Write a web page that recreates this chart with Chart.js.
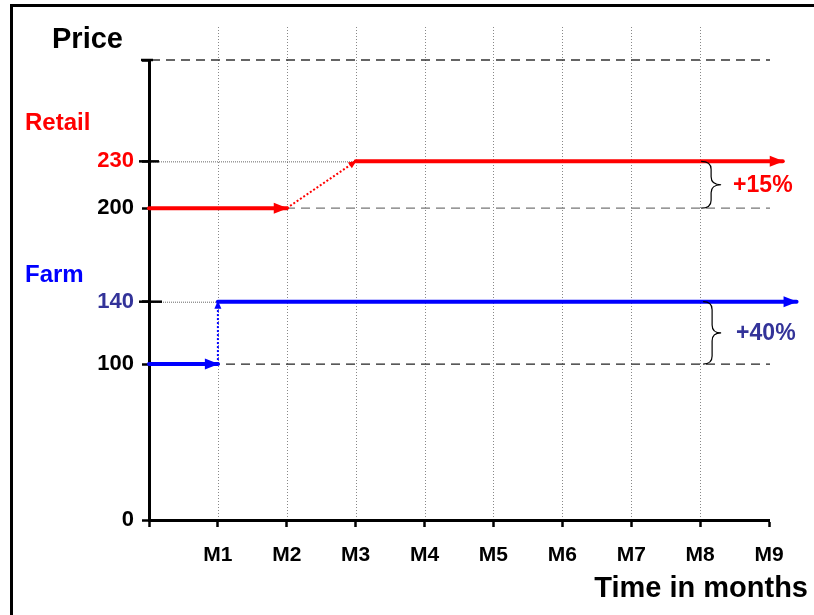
<!DOCTYPE html>
<html>
<head>
<meta charset="utf-8">
<script src="https://cdn.jsdelivr.net/npm/chart.js"></script>
<style>
    body { margin: 0; background: #fff; overflow: hidden; }
    #frame { position: absolute; left: 10px; top: 4px; width: 900px; height: 700px; border: 3px solid #000; }
    #chart { position: absolute; left: 0; top: 0; }
</style>
</head>
<body>
<div id="frame"></div>
<canvas id="chart" width="814" height="615"></canvas>
<script>
// values
const monthLabels = ['M1', 'M2', 'M3', 'M4', 'M5', 'M6', 'M7', 'M8', 'M9'];
const priceTicks = [0, 100, 140, 200, 230];
const priceTop = 295;
const retailTime = [0, 2, 3, 9.2];
const retailPrice = [200, 200, 230, 230];
const farmTime = [0, 1, 1, 9.4];
const farmPrice = [100, 100, 140, 140];
const changeLabels = ['+15%', '+40%'];

const FONT = "'Liberation Sans', Arial, sans-serif";
const RED = '#ff0000', BLUE = '#0000ff', NAVY = '#333399';

// one dataset per segment: solid, dotted (the jump), solid
function segments(times, prices, color) {
    const out = [];
    for (let i = 0; i < times.length - 1; i++) {
        const jump = i === 1;
        out.push({
            data: [{ x: times[i], y: prices[i] }, { x: times[i + 1], y: prices[i + 1] }],
            borderColor: color,
            borderWidth: jump ? 2 : 4,
            borderDash: jump ? [2, 2] : [],
            borderCapStyle: jump ? 'butt' : 'round',
            pointRadius: 0,
            tension: 0,
            clip: false,
            arrow: jump ? 'small' : 'big'
        });
    }
    return out;
}

function line(ctx, x1, y1, x2, y2, color, width, dash) {
    ctx.save();
    ctx.strokeStyle = color;
    ctx.lineWidth = width;
    ctx.setLineDash(dash || []);
    ctx.beginPath();
    ctx.moveTo(x1, y1);
    ctx.lineTo(x2, y2);
    ctx.stroke();
    ctx.restore();
}

function text(ctx, str, x, y, size, color, align) {
    ctx.save();
    ctx.font = `bold ${size}px ${FONT}`;
    ctx.fillStyle = color;
    ctx.textAlign = align || 'left';
    ctx.textBaseline = 'middle';
    ctx.fillText(str, x, y);
    ctx.restore();
}

function brace(ctx, x, y1, y2, w) {
    const ym = (y1 + y2) / 2, r = 8, m = x + w / 2;
    ctx.save();
    ctx.strokeStyle = '#000';
    ctx.lineWidth = 1.2;
    ctx.beginPath();
    ctx.moveTo(x, y1);
    ctx.quadraticCurveTo(m, y1, m, y1 + r);
    ctx.lineTo(m, ym - r);
    ctx.quadraticCurveTo(m, ym, x + w, ym);
    ctx.quadraticCurveTo(m, ym, m, ym + r);
    ctx.lineTo(m, y2 - r);
    ctx.quadraticCurveTo(m, y2, x, y2);
    ctx.stroke();
    ctx.restore();
}

const decor = {
    id: 'decor',
    beforeDatasetsDraw(chart) {
        const ctx = chart.ctx, xs = chart.scales.x, ys = chart.scales.y;
        const left = xs.left, bottom = ys.bottom;
        // vertical dotted month lines
        for (let m = 1; m < monthLabels.length; m++) {
            const px = Math.round(xs.getPixelForValue(m)) + 0.5;
            line(ctx, px, ys.top - 33, px, bottom - 2, '#888', 1, [1, 2]);
        }
        const right = xs.getPixelForValue(9) + 1;
        line(ctx, left + 2, ys.getPixelForValue(priceTop), right, ys.getPixelForValue(priceTop), '#333', 1.3, [9, 6]);
        line(ctx, left + 2, ys.getPixelForValue(retailPrice[0]), right, ys.getPixelForValue(retailPrice[0]), '#777', 1.3, [9, 6]);
        line(ctx, left + 2, ys.getPixelForValue(farmPrice[0]), right, ys.getPixelForValue(farmPrice[0]), '#222', 1.3, [9, 6]);
        // dotted guides to the new prices
        line(ctx, left, ys.getPixelForValue(retailPrice[2]) + 0.5, xs.getPixelForValue(retailTime[2]), ys.getPixelForValue(retailPrice[2]) + 0.5, '#666', 1, [1, 1]);
        line(ctx, left, ys.getPixelForValue(farmPrice[2]) + 0.5, xs.getPixelForValue(farmTime[2]), ys.getPixelForValue(farmPrice[2]) + 0.5, '#666', 1, [1, 1]);
        // ticks crossing the axis
        line(ctx, left - 8, ys.getPixelForValue(priceTop), left + 4, ys.getPixelForValue(priceTop), '#000', 2.5);
        line(ctx, left - 10, ys.getPixelForValue(retailPrice[2]), left + 10, ys.getPixelForValue(retailPrice[2]), '#000', 2.5);
        line(ctx, left - 10, ys.getPixelForValue(farmPrice[2]), left + 13, ys.getPixelForValue(farmPrice[2]), '#000', 2.5);
    },
    afterDatasetsDraw(chart) {
        const ctx = chart.ctx, xs = chart.scales.x, ys = chart.scales.y;
        // arrowheads at the end of every segment
        chart.data.datasets.forEach(ds => {
            const a = ds.data[0], b = ds.data[1];
            const x1 = xs.getPixelForValue(a.x), y1 = ys.getPixelForValue(a.y);
            const x2 = xs.getPixelForValue(b.x), y2 = ys.getPixelForValue(b.y);
            const ang = Math.atan2(y2 - y1, x2 - x1);
            const len = ds.arrow === 'big' ? 13 : 7, half = ds.arrow === 'big' ? 5.5 : 3.5;
            ctx.save();
            ctx.translate(x2, y2);
            ctx.rotate(ang);
            ctx.fillStyle = ds.borderColor;
            ctx.beginPath();
            ctx.moveTo(1, 0);
            ctx.lineTo(-len, -half);
            ctx.lineTo(-len, half);
            ctx.closePath();
            ctx.fill();
            ctx.restore();
        });
        // braces and percentage changes
        const bx = xs.getPixelForValue(8);
        const r1 = ys.getPixelForValue(retailPrice[2]), r0 = ys.getPixelForValue(retailPrice[0]);
        const f1 = ys.getPixelForValue(farmPrice[2]), f0 = ys.getPixelForValue(farmPrice[0]);
        brace(ctx, bx + 1, r1, r0, 20);
        brace(ctx, bx + 3, f1, f0, 18);
        text(ctx, changeLabels[0], bx + 33, (r1 + r0) / 2 + 1, 23, RED);
        text(ctx, changeLabels[1], bx + 36, (f1 + f0) / 2 + 1, 23, NAVY);
        // titles
        text(ctx, 'Price', 52, 40, 29, '#000');
        text(ctx, 'Retail', 25, r1 - 38, 24, RED);
        text(ctx, 'Farm', 25, f1 - 26, 24, BLUE);
        text(ctx, 'Time in months', 808, 589, 29, '#000', 'right');
    }
};

new Chart(document.getElementById('chart'), {
    type: 'line',
    data: { datasets: [...segments(retailTime, retailPrice, RED), ...segments(farmTime, farmPrice, BLUE)] },
    options: {
        responsive: false,
        animation: false,
        devicePixelRatio: 1,
        layout: { padding: { left: 0, top: 60, right: 45, bottom: 0 } },
        plugins: { legend: { display: false }, tooltip: { enabled: false } },
        scales: {
            x: {
                type: 'linear', min: 0, max: 9,
                afterFit: s => { s.height = 95; },
                afterBuildTicks: s => { s.ticks = [0, 1, 2, 3, 4, 5, 6, 7, 8, 9].map(v => ({ value: v })); },
                border: { display: true, color: '#000', width: 3 },
                grid: { drawOnChartArea: false, drawTicks: true, tickLength: 7, tickColor: '#000', tickWidth: 2.5 },
                ticks: {
                    padding: 16, maxRotation: 0, autoSkip: false,
                    color: '#000', font: { family: FONT, size: 21, weight: 'bold' },
                    callback: v => v === 0 ? '' : monthLabels[v - 1]
                }
            },
            y: {
                type: 'linear', min: 0, max: priceTop,
                afterFit: s => { s.width = 149; },
                afterBuildTicks: s => { s.ticks = [...priceTicks, priceTop].map(v => ({ value: v })); },
                border: { display: true, color: '#000', width: 3 },
                grid: { drawOnChartArea: false, drawTicks: true, tickLength: 7, tickColor: '#000', tickWidth: 2.5 },
                ticks: {
                    padding: 8, autoSkip: false,
                    font: { family: FONT, size: 22, weight: 'bold' },
                    color: c => c.tick.value === 230 ? RED : (c.tick.value === 140 ? NAVY : '#000'),
                    callback: v => priceTicks.includes(v) ? String(v) : ''
                }
            }
        }
    },
    plugins: [decor]
});
</script>
</body>
</html>
